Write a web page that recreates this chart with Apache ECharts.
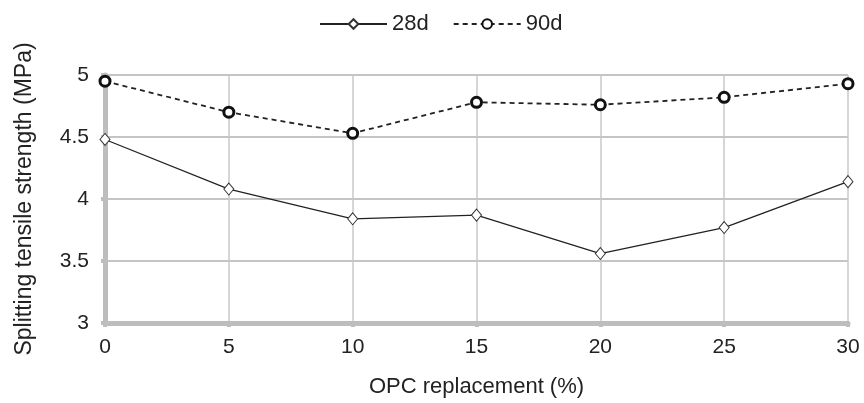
<!DOCTYPE html>
<html><head><meta charset="utf-8">
<script src="https://cdn.jsdelivr.net/npm/echarts@6/dist/echarts.min.js"></script>
<style>html,body{margin:0;padding:0;background:#fff}#c{width:864px;height:403px}</style>
</head><body><div id="c"></div>
<script>
const xValues = [0, 5, 10, 15, 20, 25, 30];
const s28d = [4.48, 4.08, 3.84, 3.87, 3.56, 3.77, 4.14];
const s90d = [4.95, 4.70, 4.53, 4.78, 4.76, 4.82, 4.93];
const seriesNames = ['28d', '90d'];
const xTitle = 'OPC replacement (%)';
const yTitle = 'Splitting tensile strength (MPa)';

const font = 'Liberation Sans, Arial, sans-serif';
const chart = echarts.init(document.getElementById('c'));
chart.setOption({
  animation: false,
  backgroundColor: '#fff',
  legend: {
    top: 8, left: 314, itemWidth: 67, itemHeight: 12, itemGap: 24,
    textStyle: {fontFamily: font, fontSize: 22, color: '#222'},
    data: seriesNames
  },
  grid: {left: 105, right: 16, top: 75, bottom: 79},
  xAxis: {
    type: 'value', min: 0, max: 30, interval: 5,
    name: xTitle, nameLocation: 'middle', nameGap: 53,
    nameTextStyle: {fontFamily: font, fontSize: 22, color: '#222'},
    axisLine: {lineStyle: {color: '#bdbdbd', width: 5}},
    axisTick: {show: true, length: 4, lineStyle: {color: '#bdbdbd', width: 4}},
    axisLabel: {fontFamily: font, fontSize: 21, color: '#222', margin: 14},
    splitLine: {show: true, lineStyle: {color: '#c8c8c8', width: 1.5}}
  },
  yAxis: {
    type: 'value', min: 3, max: 5, interval: 0.5,
    name: yTitle, nameLocation: 'middle', nameGap: 69,
    nameTextStyle: {fontFamily: font, fontSize: 23, color: '#222'},
    axisLine: {show: true, lineStyle: {color: '#bdbdbd', width: 5}},
    axisTick: {show: true, length: 4, lineStyle: {color: '#bdbdbd', width: 4}},
    axisLabel: {fontFamily: font, fontSize: 21, color: '#222', margin: 16},
    splitLine: {show: true, lineStyle: {color: '#c4c4c4', width: 2}}
  },
  series: [
    {
      name: seriesNames[0], type: 'line',
      data: xValues.map((x, i) => [x, s28d[i]]),
      symbol: 'diamond', symbolSize: [10, 12],
      itemStyle: {color: '#fff', borderColor: '#333', borderWidth: 1},
      lineStyle: {color: '#222', width: 1.3, type: 'solid'},
      z: 3
    },
    {
      name: seriesNames[1], type: 'line',
      data: xValues.map((x, i) => [x, s90d[i]]),
      symbol: 'circle', symbolSize: 10,
      itemStyle: {color: '#fff', borderColor: '#111', borderWidth: 3},
      lineStyle: {color: '#222', width: 1.8, type: [5, 4]},
      z: 4
    }
  ]
});
</script></body></html>
